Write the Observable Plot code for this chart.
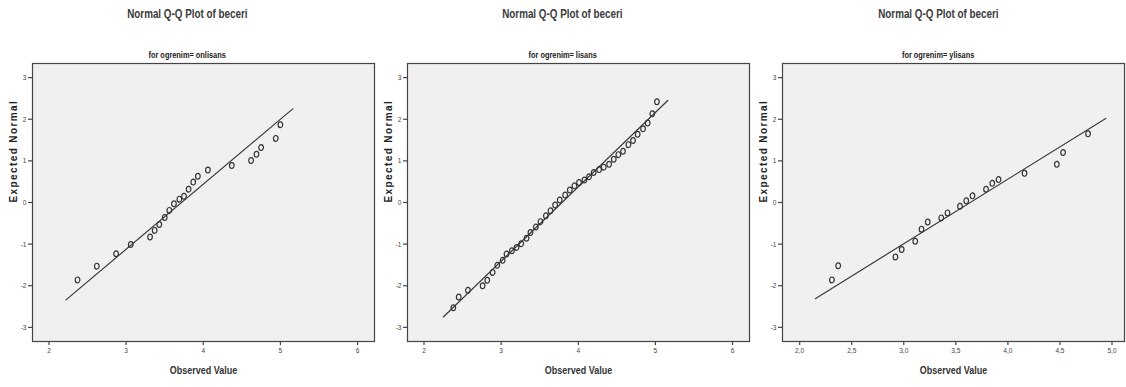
<!DOCTYPE html>
<html>
<head>
<meta charset="utf-8">
<script src="https://cdn.jsdelivr.net/npm/d3@7"></script>
<script src="https://cdn.jsdelivr.net/npm/@observablehq/plot@0.6"></script>
<style>
  body { margin: 0; background: #fff; }
  #row { display: flex; width: 1126px; height: 387px; }
  .panel { position: relative; height: 387px; }
  .title, .sub {
    position: absolute; left: 0; width: 100%; text-align: center;
    font-family: "Liberation Sans", Arial, sans-serif;
    font-weight: bold; color: #3a3a3a; white-space: nowrap;
  }
  .title span, .sub span { display: inline-block; transform: scaleX(0.82); transform-origin: center; }
  .title { top: 7px; font-size: 12px; }
  .sub { top: 50px; font-size: 9px; color: #222; }
  .chart { position: absolute; top: 60px; left: 0; }
  .ylab text { letter-spacing: 1.4px; }
</style>
</head>
<body>
<div id="row"></div>
<script>
// Q-Q plots of "beceri" split by education level (ogrenim)
const groups = ["onlisans", "lisans", "ylisans"];

// onlisans: observed values and their expected normal scores
const onlisansObserved = [2.37, 2.62, 2.87, 3.06, 3.31, 3.37, 3.43, 3.50, 3.56, 3.62, 3.69, 3.75, 3.81, 3.87, 3.93, 4.06, 4.37, 4.62, 4.69, 4.75, 4.94, 5.00];
const onlisansExpected = [-1.86, -1.53, -1.23, -1.01, -0.83, -0.67, -0.53, -0.36, -0.19, -0.03, 0.08, 0.15, 0.32, 0.49, 0.63, 0.78, 0.89, 1.01, 1.16, 1.32, 1.54, 1.87];
const onlisansLineObserved = [2.22, 5.16];
const onlisansLineExpected = [-2.34, 2.25];

// lisans
const lisansObserved = [2.38, 2.45, 2.57, 2.76, 2.82, 2.89, 2.95, 3.02, 3.07, 3.14, 3.20, 3.26, 3.33, 3.38, 3.45, 3.51, 3.58, 3.64, 3.70, 3.76, 3.83, 3.89, 3.95, 4.01, 4.08, 4.14, 4.20, 4.27, 4.33, 4.40, 4.46, 4.52, 4.58, 4.65, 4.71, 4.77, 4.84, 4.90, 4.96, 5.02];
const lisansExpected = [-2.53, -2.27, -2.11, -2.00, -1.87, -1.68, -1.51, -1.39, -1.24, -1.16, -1.08, -0.99, -0.86, -0.72, -0.59, -0.46, -0.32, -0.20, -0.06, 0.06, 0.18, 0.30, 0.40, 0.48, 0.54, 0.62, 0.72, 0.79, 0.85, 0.92, 1.04, 1.15, 1.23, 1.39, 1.49, 1.64, 1.77, 1.91, 2.13, 2.42];
const lisansLineObserved = [2.25, 5.16];
const lisansLineExpected = [-2.75, 2.45];

// ylisans
const ylisansObserved = [2.31, 2.37, 2.92, 2.98, 3.11, 3.17, 3.23, 3.36, 3.42, 3.54, 3.60, 3.66, 3.79, 3.85, 3.91, 4.16, 4.47, 4.53, 4.77];
const ylisansExpected = [-1.86, -1.52, -1.31, -1.13, -0.93, -0.64, -0.47, -0.37, -0.25, -0.09, 0.04, 0.16, 0.32, 0.46, 0.55, 0.70, 0.92, 1.20, 1.65];
const ylisansLineObserved = [2.15, 4.94];
const ylisansLineExpected = [-2.31, 2.02];

// axis ticks
const yTicks = [-3, -2, -1, 0, 1, 2, 3];
const xTicksWide = [2, 3, 4, 5, 6];
const xTicksNarrow = [2.0, 2.5, 3.0, 3.5, 4.0, 4.5, 5.0];

const panels = [
  {name: "onlisans", obs: onlisansObserved, exp: onlisansExpected, lx: onlisansLineObserved, ly: onlisansLineExpected,
   domain: [1.786, 6.22], ticks: xTicksWide, fmt: d => String(d), width: 375},
  {name: "lisans", obs: lisansObserved, exp: lisansExpected, lx: lisansLineObserved, ly: lisansLineExpected,
   domain: [1.786, 6.22], ticks: xTicksWide, fmt: d => String(d), width: 375},
  {name: "ylisans", obs: ylisansObserved, exp: ylisansExpected, lx: ylisansLineObserved, ly: ylisansLineExpected,
   domain: [1.835, 5.12], ticks: xTicksNarrow, fmt: d => d.toFixed(1).replace(".", ","), width: 376}
];

// open oval marker (taller than wide)
const oval = {
  draw(context) {
    const rx = 2.3, ry = 2.9, k = 0.5523;
    context.moveTo(rx, 0);
    context.bezierCurveTo(rx, ry * k, rx * k, ry, 0, ry);
    context.bezierCurveTo(-rx * k, ry, -rx, ry * k, -rx, 0);
    context.bezierCurveTo(-rx, -ry * k, -rx * k, -ry, 0, -ry);
    context.bezierCurveTo(rx * k, -ry, rx, -ry * k, rx, 0);
    context.closePath();
  }
};

const row = document.getElementById("row");
const sans = "'Liberation Sans', Arial, sans-serif";

function textBlock(cls, str) {
  const d = document.createElement("div");
  d.className = cls;
  const s = document.createElement("span");
  s.textContent = str;
  d.appendChild(s);
  return d;
}

// squeeze horizontal text to a narrow face, keeping each label's anchor
function narrowText(svg) {
  d3.select(svg).selectAll("text").each(function () {
    if (this.closest(".ylab")) return;
    const x = +(this.getAttribute("x") || 0);
    const t = this.getAttribute("transform") || "";
    this.setAttribute("transform", `${t} translate(${x},0) scale(0.82,1) translate(${-x},0)`);
  });
}

for (const p of panels) {
  const div = document.createElement("div");
  div.className = "panel";
  div.style.width = p.width + "px";

  div.appendChild(textBlock("title", "Normal Q-Q Plot of beceri"));
  div.appendChild(textBlock("sub", "for ogrenim= " + p.name));

  const points = p.obs.map((v, i) => ({observed: v, expected: p.exp[i]}));
  const fit = p.lx.map((v, i) => ({observed: v, expected: p.ly[i]}));

  const chart = Plot.plot({
    width: p.width,
    height: 327,
    marginLeft: 32,
    marginRight: p.width - 374,
    marginTop: 3,
    marginBottom: 46,
    style: {background: "transparent", fontFamily: sans, fontSize: "8px", color: "#444", overflow: "visible"},
    x: {domain: p.domain},
    y: {domain: [-3.34, 3.34]},
    marks: [
      Plot.frame({fill: "#f0f0f0", stroke: null}),
      Plot.line(fit, {x: "observed", y: "expected", stroke: "#3a3a3a", strokeWidth: 1.2}),
      Plot.dot(points, {x: "observed", y: "expected", symbol: oval, fill: "none", stroke: "#333", strokeWidth: 1.2}),
      Plot.frame({stroke: "#444", strokeWidth: 1.2}),
      Plot.axisX({ticks: p.ticks, tickFormat: p.fmt, tickSize: 4, tickPadding: 2, label: null, stroke: "#444", strokeWidth: 1.2}),
      Plot.axisY({ticks: yTicks, tickFormat: d => String(d), tickSize: 4, tickPadding: 2, label: null, stroke: "#444", strokeWidth: 1.2}),
      Plot.text(["Observed Value"], {frameAnchor: "bottom", dy: 32, fontWeight: "bold", fontSize: 11, fill: "#333"}),
      Plot.text(["Expected Normal"], {frameAnchor: "left", dx: -19, rotate: -90, fontWeight: "bold", fontSize: 10,
        fill: "#222", className: "ylab"})
    ]
  });
  narrowText(chart);
  chart.classList.add("chart");
  div.appendChild(chart);
  row.appendChild(div);
}
</script>
</body>
</html>
